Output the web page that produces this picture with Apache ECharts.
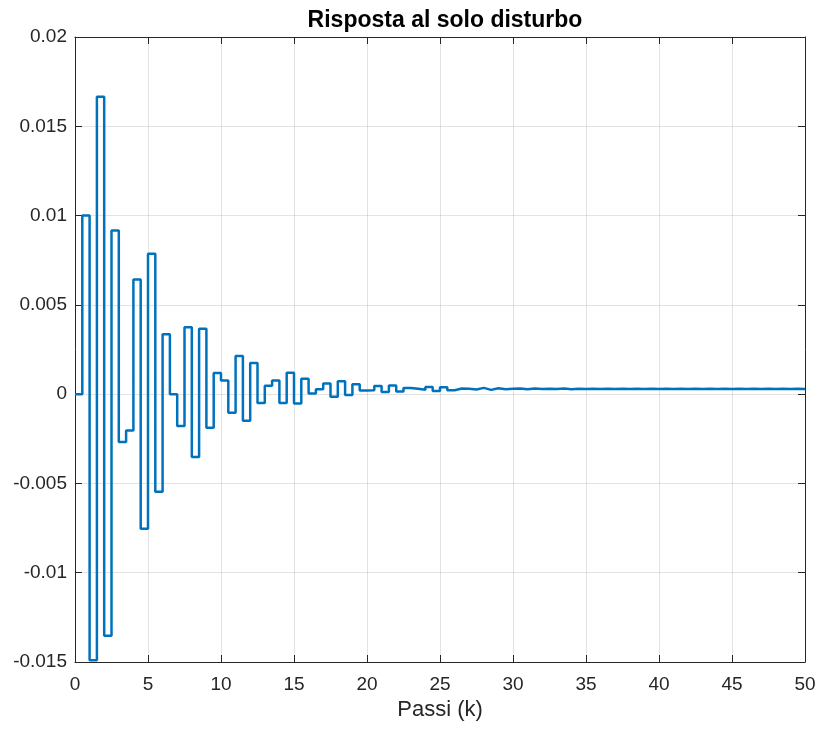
<!DOCTYPE html>
<html>
<head>
<meta charset="utf-8">
<script src="https://cdn.jsdelivr.net/npm/echarts@6/dist/echarts.min.js"></script>
<style>
html,body{margin:0;padding:0;background:#fff;}
#chart{width:821px;height:730px;}
</style>
</head>
<body>
<div id="chart"></div>
<script>
// Sample time between steps (x units per step)
const sampleTime = 0.5;
// Step response values, one per step k = 0..100
const responseValues = [
  0, 0.0100, -0.0149, 0.01666, -0.01353, 0.00916, -0.00268, -0.00203, 0.00642, -0.00754,
  0.00786, -0.00546, 0.00336, 0.0000, -0.00178, 0.00375, -0.00352, 0.00366, -0.00188, 0.00119,
  0.00076, -0.00104, 0.00213, -0.00149, 0.00175, -0.00049, 0.00047, 0.00076, -0.00049, 0.00120,
  -0.00052, 0.00086, 0.00004, 0.00028, 0.00060, -0.00015, 0.00072, -0.00005, 0.00055, 0.00020,
  0.00022, 0.00045, 0.00012, 0.00048, 0.00015, 0.00035, 0.00030, 0.00025, 0.00040, 0.00018,
  0.00038, 0.00022, 0.00032, 0.00030, 0.00026, 0.00035, 0.00024, 0.00033, 0.00028, 0.00030,
  0.00031, 0.00027, 0.00032, 0.00029, 0.00030, 0.00029, 0.00031, 0.00028, 0.00030, 0.00029,
  0.00030, 0.00029, 0.00030, 0.00029, 0.00030, 0.00029, 0.00030, 0.00029, 0.00030, 0.00029,
  0.00030, 0.00029, 0.00030, 0.00029, 0.00030, 0.00029, 0.00030, 0.00029, 0.00030, 0.00029,
  0.00030, 0.00029, 0.00030, 0.00029, 0.00030, 0.00029, 0.00030, 0.00029, 0.00030, 0.00029,
  0.00030
];
const xTicks = [0, 5, 10, 15, 20, 25, 30, 35, 40, 45, 50];
const yTickLabels = {"-0.015": "-0.015", "-0.01": "-0.01", "-0.005": "-0.005", "0": "0",
  "0.005": "0.005", "0.01": "0.01", "0.015": "0.015", "0.02": "0.02"};
const titleText = "Risposta al solo disturbo";
const xAxisName = "Passi (k)";

const seriesData = responseValues.map((v, k) => [k * sampleTime, v]);

const textColor = '#262626';
const gridColor = 'rgba(38,38,38,0.13)';
const fontFamily = '"Liberation Sans", Arial, sans-serif';

function yFmt(v) {
  const r = Math.round(v * 1000) / 1000;
  const key = String(r);
  return yTickLabels[key] !== undefined ? yTickLabels[key] : key;
}

const chart = echarts.init(document.getElementById('chart'), null, {renderer: 'canvas'});
chart.setOption({
  animation: false,
  backgroundColor: '#ffffff',
  title: {
    text: titleText,
    left: 440,
    textAlign: 'center',
    top: 4,
    textStyle: {fontFamily: fontFamily, fontSize: 23, fontWeight: 'bold', color: '#000'}
  },
  grid: {left: 75, right: 16, top: 37, bottom: 68, containLabel: false},
  xAxis: [{
    type: 'value', min: 0, max: 50, interval: 5,
    name: xAxisName, nameLocation: 'middle', nameGap: 35,
    nameTextStyle: {fontFamily: fontFamily, fontSize: 22, color: textColor},
    axisLine: {show: true, onZero: false, lineStyle: {color: textColor, width: 1}},
    axisTick: {show: true, inside: true, length: 7, lineStyle: {color: textColor}},
    axisLabel: {fontFamily: fontFamily, fontSize: 19, color: textColor, margin: 13},
    splitLine: {show: true, lineStyle: {color: gridColor, width: 1}}
  }, {
    type: 'value', min: 0, max: 50, interval: 5, position: 'top',
    axisLine: {show: true, onZero: false, lineStyle: {color: textColor, width: 1}},
    axisTick: {show: true, inside: true, length: 7, lineStyle: {color: textColor}},
    axisLabel: {show: false}, splitLine: {show: false}
  }],
  yAxis: [{
    type: 'value', min: -0.015, max: 0.02, interval: 0.005,
    axisLine: {show: true, onZero: false, lineStyle: {color: textColor, width: 1}},
    axisTick: {show: true, inside: true, length: 7, lineStyle: {color: textColor}},
    axisLabel: {fontFamily: fontFamily, fontSize: 19, color: textColor, margin: 8, formatter: yFmt},
    splitLine: {show: true, lineStyle: {color: gridColor, width: 1}}
  }, {
    type: 'value', min: -0.015, max: 0.02, interval: 0.005, position: 'right',
    axisLine: {show: true, onZero: false, lineStyle: {color: textColor, width: 1}},
    axisTick: {show: true, inside: true, length: 7, lineStyle: {color: textColor}},
    axisLabel: {show: false}, splitLine: {show: false}
  }],
  series: [{
    type: 'line',
    step: 'end',
    data: seriesData,
    xAxisIndex: 0, yAxisIndex: 0,
    showSymbol: false,
    clip: true,
    lineStyle: {color: '#0072BD', width: 2.5},
    itemStyle: {color: '#0072BD'}
  }]
});
</script>
</body>
</html>
